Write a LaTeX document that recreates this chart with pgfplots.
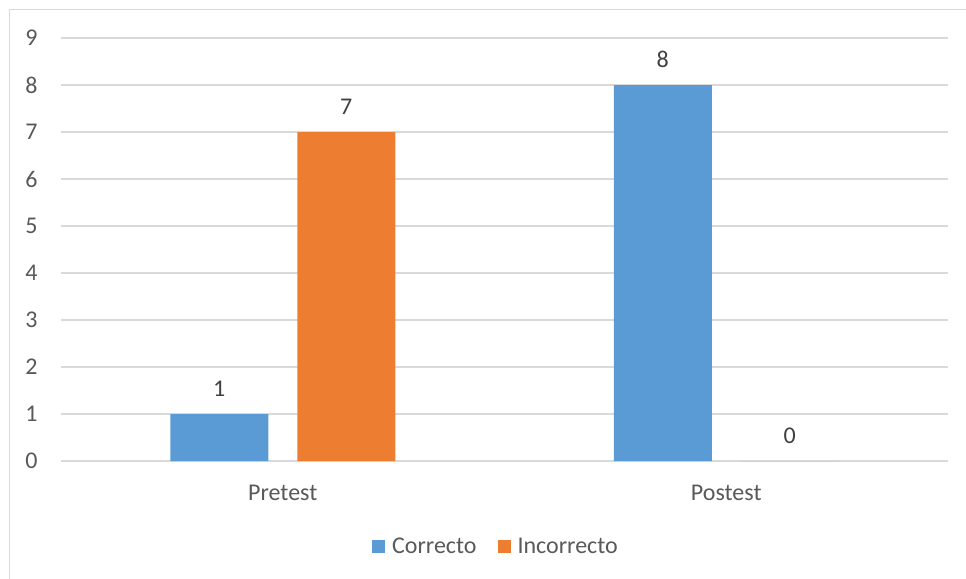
\documentclass[border=0pt]{standalone}
\usepackage{pgfplots}
\pgfplotsset{compat=1.18}
\usepackage{fontspec}
\setmainfont{Carlito}
\definecolor{xlblue}{HTML}{5B9BD5}
\definecolor{xlorange}{HTML}{ED7D31}
\definecolor{xlgrid}{HTML}{D9D9D9}
\definecolor{xltext}{HTML}{595959}
\definecolor{xllabel}{HTML}{404040}
\newcommand{\chartfont}{\fontsize{12}{14}\selectfont}
\begin{document}
\begin{tikzpicture}
\useasboundingbox (0pt,0pt) rectangle (483pt,289.5pt);
\draw[xlgrid, line width=0.75pt] (4.75pt,0pt) -- (4.75pt,284.75pt) -- (483pt,284.75pt);
\begin{axis}[
  at={(30.5pt,59pt)}, anchor=south west,
  scale only axis, width=443.5pt, height=211.5pt,
  ymin=0, ymax=9, ytick={0,...,9},
  xmin=-0.5, xmax=1.5, xtick=data, xticklabels={Pretest,Postest},
  ybar=14.5pt, bar width=49pt,
  axis line style={draw=none},
  major tick length=0pt,
  ymajorgrids, grid style={xlgrid, line width=0.7pt},
  tick label style={font=\chartfont, text=xltext, inner sep=0pt},
  yticklabel style={xshift=-11.5pt},
  xticklabel style={yshift=-12pt},
  /pgf/number format/assume math mode=true,
  nodes near coords,
  every node near coord/.append style={font=\chartfont, text=xllabel, inner sep=0pt, yshift=8.5pt},
  legend style={at={(0.4915,-0.2033)}, anchor=center, draw=none, fill=none,
    legend columns=2, font=\chartfont, text=xltext,
    nodes={inner sep=2pt},
    /tikz/every odd column/.append style={column sep=1.5pt},
    /tikz/every even column/.append style={column sep=8.5pt}},
  legend image code/.code={\fill[#1] (0pt,-3.25pt) rectangle (6.5pt,3.25pt);},
]
\addplot[fill=xlblue, draw=none] coordinates {(0,1) (1,8)};
\addplot[fill=xlorange, draw=none] coordinates {(0,7) (1,0)};
\legend{Correcto,Incorrecto}
\end{axis}
\end{tikzpicture}
\end{document}
